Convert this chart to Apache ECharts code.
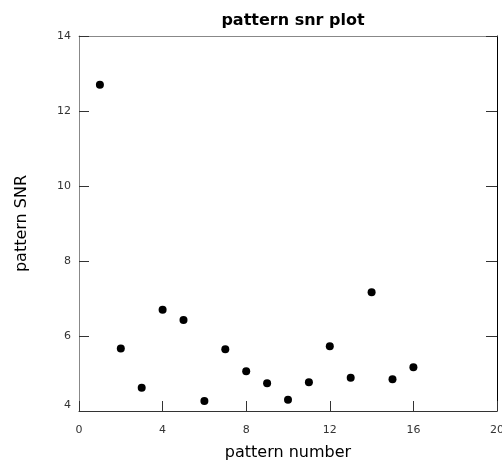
<!DOCTYPE html>
<html>
<head>
<meta charset="utf-8">
<script src="https://cdn.jsdelivr.net/npm/echarts@6/dist/echarts.min.js"></script>
<style>
  html, body { margin: 0; padding: 0; background: #fff; }
  #chart { width: 502px; height: 464px; }
</style>
</head>
<body>
<div id="chart"></div>
<script>
// pattern snr plot
const patternNumbers = [1, 2, 3, 4, 5, 6, 7, 8, 9, 10, 11, 12, 13, 14, 15, 16];
const snrValues = [12.70, 5.67, 4.62, 6.70, 6.43, 4.27, 5.65, 5.06, 4.74, 4.30, 4.77, 5.73, 4.89, 7.17, 4.85, 5.17];

const points = patternNumbers.map((n, i) => [n, snrValues[i]]);

const chart = echarts.init(document.getElementById('chart'));
const tickFont = 'DejaVu Sans, sans-serif';
const nameFont = 'DejaVu Sans, sans-serif';

const option = {
    backgroundColor: '#ffffff',
    animation: false,
    title: {
        text: 'pattern snr plot',
        left: 288,
        textAlign: 'center',
        top: 8,
        textStyle: { fontFamily: nameFont, fontSize: 16, fontWeight: 'bold', color: '#000' }
    },
    grid: { left: 79, right: 5, top: 36, bottom: 53, containLabel: false, outerBoundsMode: 'none' },
    xAxis: [
        {
            type: 'value',
            min: 0,
            max: 20,
            interval: 4,
            name: 'pattern number',
            nameLocation: 'middle',
            nameGap: 34,
            nameTextStyle: { fontFamily: nameFont, fontSize: 16, color: '#000' },
            axisLine: { lineStyle: { color: '#333', width: 1 } },
            axisTick: { inside: true, length: 10, lineStyle: { color: '#333' } },
            axisLabel: { fontFamily: tickFont, fontSize: 11, color: '#333', margin: 14 },
            splitLine: { show: false }
        },
        {
            type: 'value',
            position: 'top',
            min: 0,
            max: 20,
            axisLine: { show: true, onZero: false, lineStyle: { color: '#888', width: 1 } },
            axisTick: { show: false },
            axisLabel: { show: false },
            splitLine: { show: false }
        }
    ],
    yAxis: [
        {
            type: 'value',
            min: 4,
            max: 14,
            interval: 2,
            name: 'pattern SNR',
            nameLocation: 'middle',
            nameGap: 49,
            nameTextStyle: { fontFamily: nameFont, fontSize: 16, color: '#000' },
            axisLine: { show: true, lineStyle: { color: '#888', width: 1 } },
            axisTick: { show: true, inside: true, length: 10, lineStyle: { color: '#333' } },
            axisLabel: {
                fontFamily: tickFont, fontSize: 11, color: '#333', margin: 8,
                formatter: v => v === 4 ? '{low|4}' : String(v),
                rich: { low: { fontFamily: tickFont, fontSize: 11, color: '#333', padding: [0, 0, 12, 0] } }
            },
            splitLine: { show: false }
        },
        {
            type: 'value',
            position: 'right',
            min: 4,
            max: 14,
            interval: 2,
            axisLine: { show: true, onZero: false, lineStyle: { color: '#000', width: 1 } },
            axisTick: { show: true, inside: true, length: 11, lineStyle: { color: '#333' } },
            axisLabel: { show: false },
            splitLine: { show: false }
        }
    ],
    series: [{
        type: 'scatter',
        data: points,
        symbol: 'circle',
        symbolSize: 8,
        itemStyle: { color: '#000', opacity: 1 }
    }]
};

chart.setOption(option);
</script>
</body>
</html>
